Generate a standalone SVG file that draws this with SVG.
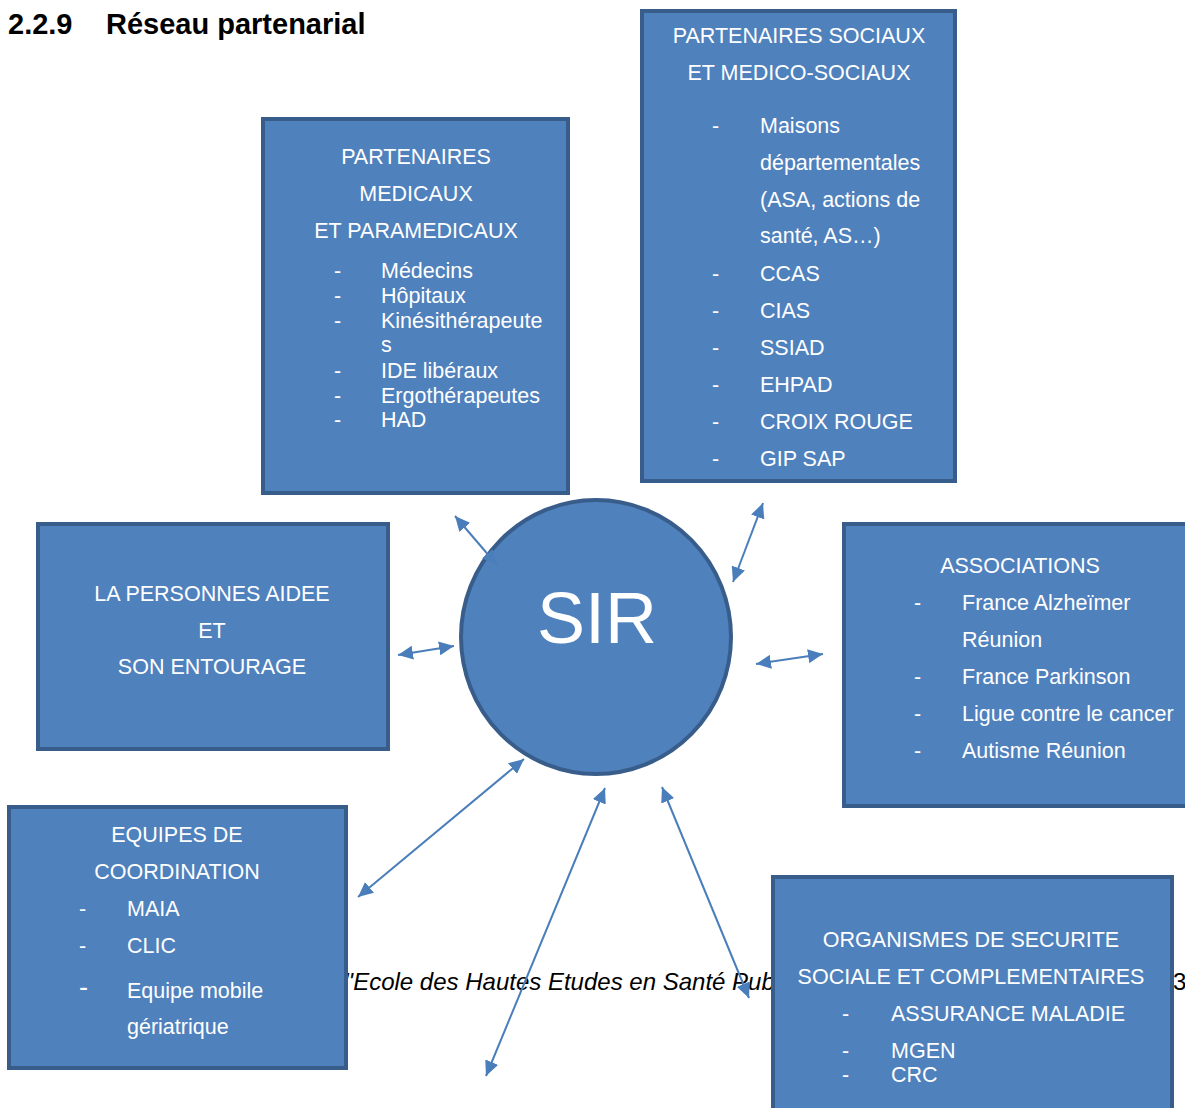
<svg xmlns="http://www.w3.org/2000/svg" width="1185" height="1108" viewBox="0 0 1185 1108">
<style>
.box{fill:#4f81bd;stroke:#385d8a;stroke-width:4}
.t{font-family:"Liberation Sans",Arial,sans-serif;font-size:21.5px;fill:#ffffff}
.c{text-anchor:middle}
.conn{stroke:#4a7ebb;stroke-width:2;fill:none;marker-start:url(#ah);marker-end:url(#ah)}
.hdr{font-family:"Liberation Sans",Arial,sans-serif;font-size:29px;font-weight:bold;fill:#000000}
.foot{font-family:"Liberation Sans",Arial,sans-serif;font-size:24px;fill:#000000}
</style>
<defs>
<marker id="ah" markerUnits="userSpaceOnUse" markerWidth="15" markerHeight="14" refX="15" refY="7" orient="auto-start-reverse" viewBox="0 0 15 14">
<path d="M0,0 L15,7 L0,14 z" fill="#4a7ebb"/>
</marker>
</defs>
<rect width="1185" height="1108" fill="#ffffff"/>
<g id="header">
<text class="hdr" x="8" y="34">2.2.9</text>
<text class="hdr" x="106" y="34">Réseau partenarial</text>
</g>
<g id="footer">
<text class="foot" x="344" y="990" font-style="italic">''Ecole des Hautes Etudes en Santé Pub</text>
<text class="foot" x="1173" y="990">3</text>
</g>
<g id="medicaux">
<rect class="box" x="263" y="119" width="305" height="374"/>
<text class="t c" x="416" y="164">PARTENAIRES</text>
<text class="t c" x="416" y="201">MEDICAUX</text>
<text class="t c" x="416" y="238">ET PARAMEDICAUX</text>
<text class="t" x="334" y="278">-</text><text class="t" x="381" y="278">Médecins</text>
<text class="t" x="334" y="303">-</text><text class="t" x="381" y="303">Hôpitaux</text>
<text class="t" x="334" y="328">-</text><text class="t" x="381" y="328">Kinésithérapeute</text>
<text class="t" x="381" y="352">s</text>
<text class="t" x="334" y="378">-</text><text class="t" x="381" y="378">IDE libéraux</text>
<text class="t" x="334" y="403">-</text><text class="t" x="381" y="403">Ergothérapeutes</text>
<text class="t" x="334" y="427">-</text><text class="t" x="381" y="427">HAD</text>
</g>
<g id="sociaux">
<rect class="box" x="642" y="11" width="313" height="470"/>
<text class="t c" x="799" y="43">PARTENAIRES SOCIAUX</text>
<text class="t c" x="799" y="80">ET MEDICO-SOCIAUX</text>
<text class="t" x="712" y="133">-</text><text class="t" x="760" y="133">Maisons</text>
<text class="t" x="760" y="170">départementales</text>
<text class="t" x="760" y="207">(ASA, actions de</text>
<text class="t" x="760" y="243">santé, AS…)</text>
<text class="t" x="712" y="281">-</text><text class="t" x="760" y="281">CCAS</text>
<text class="t" x="712" y="318">-</text><text class="t" x="760" y="318">CIAS</text>
<text class="t" x="712" y="355">-</text><text class="t" x="760" y="355">SSIAD</text>
<text class="t" x="712" y="392">-</text><text class="t" x="760" y="392">EHPAD</text>
<text class="t" x="712" y="429">-</text><text class="t" x="760" y="429">CROIX ROUGE</text>
<text class="t" x="712" y="466">-</text><text class="t" x="760" y="466">GIP SAP</text>
</g>
<g id="personne">
<rect class="box" x="38" y="524" width="350" height="225"/>
<text class="t c" x="212" y="601">LA PERSONNES AIDEE</text>
<text class="t c" x="212" y="638">ET</text>
<text class="t c" x="212" y="674">SON ENTOURAGE</text>
</g>
<g id="associations">
<rect class="box" x="844" y="524" width="360" height="282"/>
<text class="t c" x="1020" y="573">ASSOCIATIONS</text>
<text class="t" x="914" y="610">-</text><text class="t" x="962" y="610">France Alzheïmer</text>
<text class="t" x="962" y="647">Réunion</text>
<text class="t" x="914" y="684">-</text><text class="t" x="962" y="684">France Parkinson</text>
<text class="t" x="914" y="721">-</text><text class="t" x="962" y="721">Ligue contre le cancer</text>
<text class="t" x="914" y="758">-</text><text class="t" x="962" y="758">Autisme Réunion</text>
</g>
<g id="coordination">
<rect class="box" x="9" y="807" width="337" height="261"/>
<text class="t c" x="177" y="842">EQUIPES DE</text>
<text class="t c" x="177" y="879">COORDINATION</text>
<text class="t" x="79" y="916">-</text><text class="t" x="127" y="916">MAIA</text>
<text class="t" x="79" y="953">-</text><text class="t" x="127" y="953">CLIC</text>
<text class="t" x="79" y="996" style="font-size:27px">-</text><text class="t" x="127" y="998">Equipe mobile</text>
<text class="t" x="127" y="1034">gériatrique</text>
</g>
<g id="organismes">
<rect class="box" x="773" y="877" width="399" height="260"/>
<text class="t c" x="971" y="947">ORGANISMES DE SECURITE</text>
<text class="t c" x="971" y="984">SOCIALE ET COMPLEMENTAIRES</text>
<text class="t" x="842" y="1021">-</text><text class="t" x="891" y="1021">ASSURANCE MALADIE</text>
<text class="t" x="842" y="1058">-</text><text class="t" x="891" y="1058">MGEN</text>
<text class="t" x="842" y="1082">-</text><text class="t" x="891" y="1082">CRC</text>
</g>
<g id="sir">
<ellipse cx="596" cy="637" rx="135" ry="137" fill="#4f81bd" stroke="#385d8a" stroke-width="4"/>
<text x="597" y="643" text-anchor="middle" font-family="'Liberation Sans',Arial,sans-serif" font-size="72" fill="#ffffff">SIR</text>
</g>
<g id="connectors">
<line class="conn" x1="455" y1="516" x2="497" y2="565"/>
<line class="conn" x1="763" y1="503" x2="733" y2="582"/>
<line class="conn" x1="398" y1="655" x2="454" y2="646"/>
<line class="conn" x1="756" y1="664" x2="823" y2="654"/>
<line class="conn" x1="524" y1="759" x2="358" y2="897"/>
<line class="conn" x1="605" y1="788" x2="486" y2="1076"/>
<line class="conn" x1="662" y1="787" x2="749" y2="998"/>
</g>
</svg>
